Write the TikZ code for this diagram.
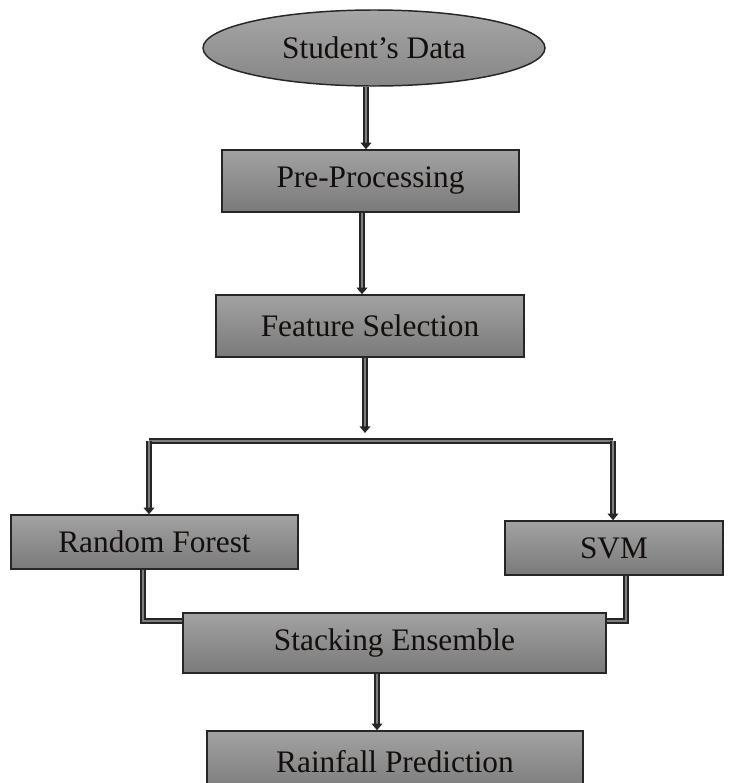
\documentclass[tikz,border=0pt]{standalone}
\usepackage{fontspec}
\setmainfont{Liberation Serif}
\usetikzlibrary{shapes.geometric,arrows.meta,calc}
\definecolor{boxtop}{HTML}{A2A2A2}
\definecolor{boxbot}{HTML}{7A7A7A}
\definecolor{elltop}{HTML}{A6A6A6}
\definecolor{ellbot}{HTML}{868686}
\definecolor{txt}{HTML}{140F0C}
\definecolor{conninner}{HTML}{7E7E7E}
\begin{document}
\begin{tikzpicture}[x=0.75pt,y=-0.75pt,
  box/.style={draw=black!85, line width=1.1pt, top color=boxtop, bottom color=boxbot,
    rectangle, inner sep=0pt, font=\fontsize{23.5}{28}\selectfont, text=txt},
  conn/.style={draw=black!85, line width=1.25pt, double=conninner, double distance=1.5pt},
  arr/.style={conn, -{Triangle[length=5pt,width=8pt]}}
]
\useasboundingbox (0,0) rectangle (734,783);
\node[box, ellipse, top color=elltop, bottom color=ellbot,
  minimum width=342*0.75pt, minimum height=76*0.75pt] (sd) at (374,48) {Student’s Data};
\node[box, minimum width=297*0.75pt, minimum height=62*0.75pt] (pp) at (370.5,181) {Pre-Processing};
\node[box, minimum width=308*0.75pt, minimum height=62*0.75pt] (fs) at (370,326) {Feature Selection};
\node[box, minimum width=287*0.75pt, minimum height=54*0.75pt] (rf) at (154.5,542) {Random Forest};
\node[box, minimum width=218*0.75pt, minimum height=54*0.75pt] (svm) at (614,548) {SVM};
\node[box, minimum width=423*0.75pt, minimum height=60*0.75pt] (se) at (394.5,643) {Stacking Ensemble};
\node[box, minimum width=376*0.75pt, minimum height=62*0.75pt] (rp) at (395,762) {Rainfall Prediction};

\coordinate (j) at (365,433);
\coordinate (jl) at (149,441);
\coordinate (jr) at (613,441);

\draw[arr] ([xshift=-8*0.75pt]sd.south) -- ([xshift=-8*0.75pt]sd.south |- pp.north);
\draw[arr] ([xshift=-8.5*0.75pt]pp.south) -- ([xshift=-8.5*0.75pt]pp.south |- fs.north);
\draw[arr] ([xshift=-5*0.75pt]fs.south) -- (j);
\draw[conn] (jl) -- (jr);
\draw[arr] (jl) -- (jl |- rf.north);
\draw[arr] (jr) -- (jr |- svm.north);
\draw[conn] ([xshift=-11.5*0.75pt]rf.south) |- ([yshift=16.5pt]se.west);
\draw[conn] ([xshift=12*0.75pt]svm.south) |- ([yshift=16.5pt]se.east);
\draw[arr] ([xshift=-17.5*0.75pt]se.south) -- ([xshift=-17.5*0.75pt]se.south |- rp.north);
\end{tikzpicture}
\end{document}
